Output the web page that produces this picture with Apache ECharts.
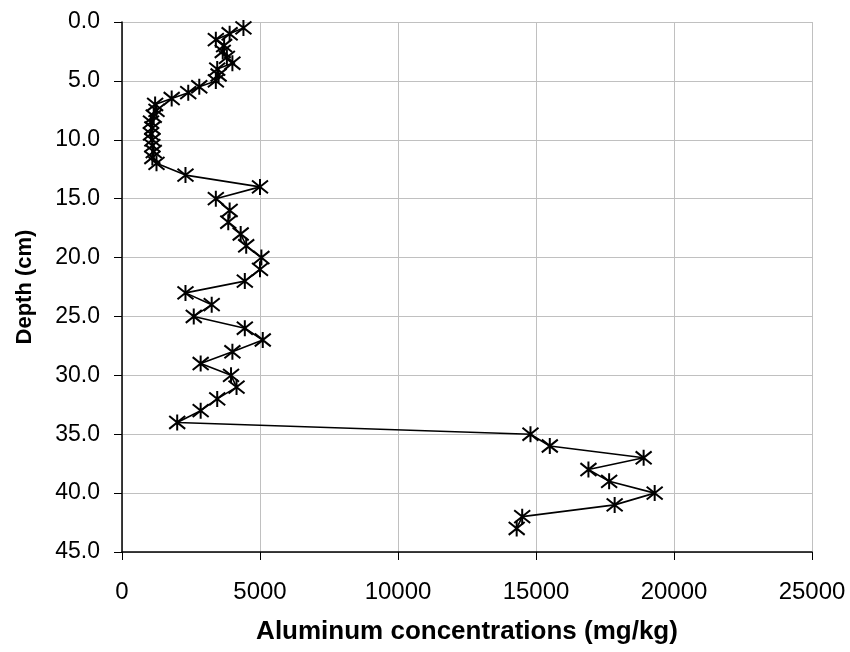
<!DOCTYPE html>
<html>
<head>
<meta charset="utf-8">
<script src="https://cdn.jsdelivr.net/npm/echarts@6/dist/echarts.min.js"></script>
<style>html,body{margin:0;padding:0;background:#fff}#c{width:850px;height:652px}</style>
</head>
<body>
<div id="c"></div>
<script>
var depths = [0.5,1,1.5,2,2.5,3,3.5,4,4.5,5,5.5,6,6.5,7,7.5,8,8.5,9,9.5,10,10.5,11,11.5,12,
  13,14,15,16,17,18,19,20,21,22,23,24,25,26,27,28,29,30,31,32,33,34,35,36,37,38,39,40,41,42,43];
var aluminum = [4400,3900,3400,3700,3650,3800,4000,3450,3500,3400,2800,2400,1800,1200,1250,1150,1050,1100,1050,1100,1100,1150,1100,1250,
  2300,5000,3400,3900,3850,4300,4500,5050,5000,4450,2300,3250,2600,4450,5100,4000,2850,3950,4150,3450,2850,2000,
  14800,15500,18900,16900,17650,19300,17850,14500,14300];
var xTicks = [0,5000,10000,15000,20000,25000];
var yTicks = [0,5,10,15,20,25,30,35,40,45];

var pts = depths.map(function(d,i){ return [aluminum[i], d]; });
var chart = echarts.init(document.getElementById('c'), null, {renderer:'canvas'});
var font = 'Liberation Sans, Arial, sans-serif';
chart.setOption({
  animation:false,
  backgroundColor:'#fff',
  grid:{left:122,right:38,top:22,bottom:100,containLabel:false},
  xAxis:{type:'value',min:xTicks[0],max:xTicks[xTicks.length-1],interval:5000,
    name:'Aluminum concentrations (mg/kg)',nameLocation:'middle',nameGap:67,
    nameTextStyle:{fontFamily:font,fontWeight:'bold',fontSize:26,color:'#000'},
    axisLine:{show:true,onZero:false,lineStyle:{color:'#000',width:1.5}},
    axisTick:{show:true,inside:false,length:8,lineStyle:{color:'#000',width:1}},
    axisLabel:{fontFamily:font,fontSize:24,color:'#000',margin:28,formatter:function(v){return String(v);}},
    splitLine:{show:true,lineStyle:{color:'#c0c0c0',width:1}}},
  yAxis:{type:'value',inverse:true,min:yTicks[0],max:yTicks[yTicks.length-1],interval:5,
    name:'Depth (cm)',nameLocation:'middle',nameGap:86,nameRotate:90,
    nameTextStyle:{fontFamily:font,fontWeight:'bold',fontSize:22,color:'#000'},
    axisLine:{show:true,onZero:false,lineStyle:{color:'#000',width:1.5}},
    axisTick:{show:true,inside:false,length:8,lineStyle:{color:'#000',width:1}},
    axisLabel:{fontFamily:font,fontSize:23,color:'#000',margin:22,formatter:function(v){return v.toFixed(1);}},
    splitLine:{show:true,lineStyle:{color:'#c0c0c0',width:1}}},
  series:[{type:'line',data:pts,
    symbol:'path://M0,-10L0,10M-8,-8L8,8M-8,8L8,-8',symbolSize:16,
    itemStyle:{color:'#000',borderColor:'#000',borderWidth:2},
    lineStyle:{color:'#000',width:1.6}}]
});
</script>
</body>
</html>
